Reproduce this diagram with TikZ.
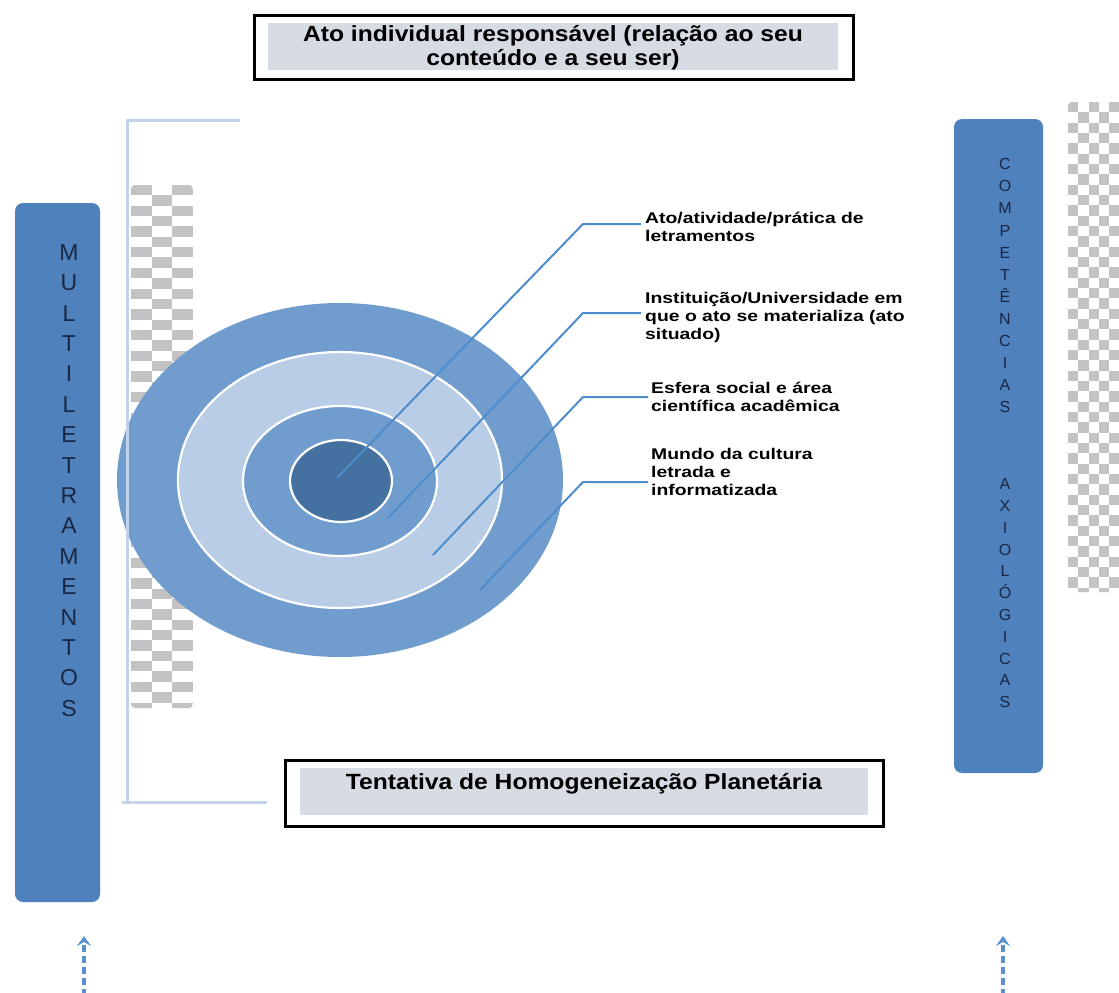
\documentclass[tikz,border=0pt]{standalone}
\usepackage{fontspec}
\setmainfont{Liberation Sans}
\newfontfamily\boxfont[FakeStretch=1.12]{Liberation Sans}
\newfontfamily\lblfont[FakeStretch=1.25]{Liberation Sans}
\usetikzlibrary{arrows.meta}
\definecolor{barblue}{HTML}{4F81BD}
\definecolor{ringmid}{HTML}{709CCE}
\definecolor{ringlight}{HTML}{B9CDE6}
\definecolor{ringdark}{HTML}{44719F}
\definecolor{leader}{HTML}{4F8CCB}
\definecolor{lettercol}{HTML}{1A2744}
\definecolor{brackcol}{HTML}{C3D3EA}
\definecolor{boxgray}{HTML}{D7DCE4}
\definecolor{chkgray}{HTML}{C3C3C3}
\definecolor{arrowcol}{HTML}{5B90D0}
\tikzset{
  chk/.style={fill=chkgray},
  bar/.style={fill=barblue, rounded corners=8pt},
  vlL/.style={anchor=base, text=lettercol, inner sep=0pt, font=\fontsize{23}{23}\selectfont},
  vlR/.style={anchor=base, text=lettercol, inner sep=0pt, font=\fontsize{16}{16}\selectfont},
  bracketline/.style={draw=brackcol, line width=3pt},
  leaderline/.style={draw=leader, line width=2pt},
  lbl/.style={anchor=north west, inner sep=0pt, align=left, font=\lblfont\bfseries\fontsize{15.5}{17.9}\selectfont},
  outerbox/.style={draw=black, line width=3pt, fill=white, inner sep=0pt},
  boxtext/.style={inner sep=0pt, align=center, font=\boxfont\bfseries\fontsize{22}{24}\selectfont},
  dasharrow/.style={draw=arrowcol, line width=3.5pt, dash pattern=on 7pt off 4pt, -{Stealth[length=10pt,width=14pt,inset=4pt]}},
  ringedge/.style={draw=white, line width=2.2pt}
}
\begin{document}
\begin{tikzpicture}[x=1pt,y=-1pt]
\useasboundingbox[fill=white] (0,0) rectangle (1119,993);

% left checker
\begin{scope}
\clip[rounded corners=4pt] (131,185) rectangle (193,708);
\foreach \i in {0,...,50} \foreach \j in {0,1,2} {
  \pgfmathtruncatemacro\k{mod(\i+\j,2)}
  \ifnum\k=0 \fill[chk] ({131+20.67*\j},{185+10.35*\i}) rectangle ++(20.67,10.35); \fi
}
\end{scope}

% right checker
\begin{scope}
\clip[rounded corners=4pt] (1068,102) rectangle (1125,592);
\foreach \i in {0,...,48} \foreach \j in {0,...,5} {
  \pgfmathtruncatemacro\k{mod(\i+\j,2)}
  \ifnum\k=0 \fill[chk] ({1068+10.33*\j},{102+10.33*\i}) rectangle ++(10.33,10.33); \fi
}
\end{scope}

% concentric ellipses
\fill[ringmid] (340,480) ellipse [x radius=223pt, y radius=177pt];
\filldraw[fill=ringlight, ringedge] (340,480) ellipse [x radius=162pt, y radius=128pt];
\filldraw[fill=ringmid, ringedge] (340,481) ellipse [x radius=97pt, y radius=75pt];
\filldraw[fill=ringdark, ringedge] (341,481) ellipse [x radius=51pt, y radius=41pt];

% bracket
\coordinate (bt1) at (240,120);
\coordinate (bt2) at (127,120);
\coordinate (bb1) at (127,802);
\coordinate (bb0) at (122,802);
\coordinate (bb2) at (267,802);
\draw[bracketline] (bt1) -- (bt2) -- (bb1);
\draw[bracketline] (bb0) -- (bb2);

% labels
\node[lbl] (l1) at (645,212) {Ato/atividade/prática de\\letramentos};
\node[lbl] (l2) at (645,292) {Instituição/Universidade em\\que o ato se materializa (ato\\situado)};
\node[lbl] (l3) at (651,382) {Esfera social e área\\científica acadêmica};
\node[lbl] (l4) at (651,448) {Mundo da cultura\\letrada e\\informatizada};

% leader lines
\coordinate (p1) at (337,478); \coordinate (k1) at (583,224); \coordinate (e1) at (641,224);
\coordinate (p2) at (388,518); \coordinate (k2) at (583,313); \coordinate (e2) at (641,313);
\coordinate (p3) at (433,555); \coordinate (k3) at (583,397); \coordinate (e3) at (648,397);
\coordinate (p4) at (480,590); \coordinate (k4) at (583,482); \coordinate (e4) at (648,482);
\draw[leaderline] (p1) -- (k1) -- (e1);
\draw[leaderline] (p2) -- (k2) -- (e2);
\draw[leaderline] (p3) -- (k3) -- (e3);
\draw[leaderline] (p4) -- (k4) -- (e4);

% left bar
\fill[bar] (15,203) rectangle (100,902);
\foreach \c [count=\n] in {M,U,L,T,I,L,E,T,R,A,M,E,N,T,O,S}
  \node[vlL] (ml\n) at (69,{252+8.2+30.4*(\n-1)}) {\c};

% right bar
\fill[bar] (954,119) rectangle (1043,773);
\foreach \c [count=\n] in {C,O,M,P,E,T,Ê,N,C,I,A,S}
  \node[vlR] (cr\n) at (1005,{164+5.7+22.1*(\n-1)}) {\c};
\foreach \c [count=\n] in {A,X,I,O,L,Ó,G,I,C,A,S}
  \node[vlR] (ax\n) at (1005,{484+5.7+21.8*(\n-1)}) {\c};

% top box
\node[outerbox, minimum width=599pt, minimum height=64pt] (topbox) at (553.5,47) {};
\fill[boxgray] (268,23) rectangle (838,70);
\node[boxtext] (toptext) at (553,48) {Ato individual responsável (relação ao seu\\conteúdo e a seu ser)};

% bottom box
\node[outerbox, minimum width=598pt, minimum height=66pt] (botbox) at (584,793) {};
\fill[boxgray] (300,768) rectangle (868,815);
\node[boxtext] (bottext) at (584,784) {Tentativa de Homogeneização Planetária};

% dashed arrows
\coordinate (a1s) at (84,996); \coordinate (a1e) at (84,936);
\coordinate (a2s) at (1003,996); \coordinate (a2e) at (1003,936);
\draw[dasharrow] (a1s) -- (a1e);
\draw[dasharrow] (a2s) -- (a2e);
\end{tikzpicture}
\end{document}
